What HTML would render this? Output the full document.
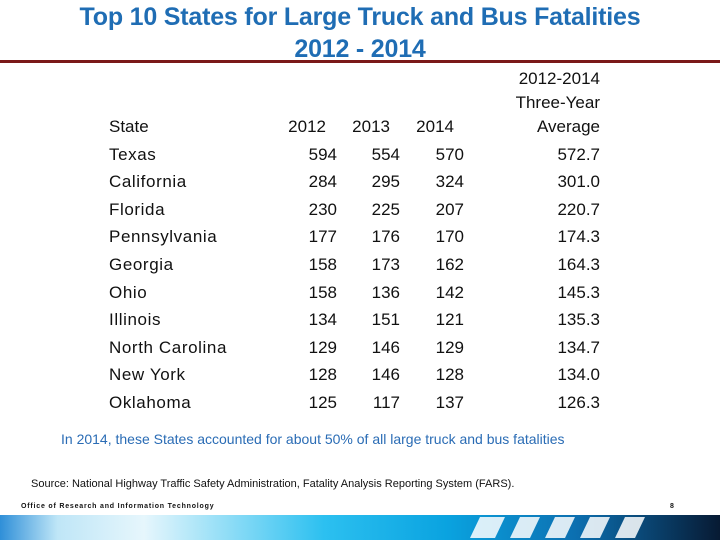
<!DOCTYPE html>
<html><head><meta charset="utf-8"><style>
body{margin:0;width:720px;height:540px;background:#fff;position:relative;overflow:hidden;font-family:"Liberation Sans",sans-serif}
.t{position:absolute;white-space:nowrap}
#title{left:0;width:720px;text-align:center;color:#1f6db4;font-weight:bold;font-size:25px;line-height:32px;top:1px;letter-spacing:-0.2px}
.c{position:absolute;font-size:17px;color:#111;white-space:nowrap;line-height:20px}
.r{text-align:right}
</style></head><body>
<div id="title" class="t">Top 10 States for Large Truck and Bus Fatalities<br>2012 - 2014</div>
<div class="t" style="left:0;top:60px;width:720px;height:3px;background:#7a1818"></div>
<div id="tbl"></div>
<div class="t" style="left:61px;top:431px;font-size:14px;color:#2a6cb5">In 2014, these States accounted for about 50% of all large truck and bus fatalities</div>
<div class="t" style="left:31px;top:478px;font-size:11px;color:#111">Source: National Highway Traffic Safety Administration, Fatality Analysis Reporting System (FARS).</div>
<div class="t" style="left:21px;top:503px;font-size:7px;font-weight:bold;letter-spacing:0.8px;color:#111">Office of Research and Information Technology</div>
<div class="t" style="left:670px;top:503px;font-size:7px;font-weight:bold;color:#111">8</div>
<svg class="t" style="left:0;top:515px" width="720" height="25">
<defs><linearGradient id="g" x1="0" x2="1"><stop offset="0" stop-color="#2f8fd8"/><stop offset="0.08" stop-color="#bfe6f7"/><stop offset="0.2" stop-color="#e6f6fc"/><stop offset="0.45" stop-color="#2cc0f0"/><stop offset="0.62" stop-color="#0aa3e0"/><stop offset="0.8" stop-color="#0c6fb0"/><stop offset="1" stop-color="#071a33"/></linearGradient></defs>
<rect width="720" height="25" fill="url(#g)"/>
<g fill="#ffffff" opacity="0.85">
<polygon points="480,2 505,2 495,23 470,23"/><polygon points="520,2 540,2 530,23 510,23"/><polygon points="555,2 575,2 565,23 545,23"/><polygon points="590,2 610,2 600,23 580,23"/><polygon points="625,2 645,2 635,23 615,23"/></g>
</svg>
<script>
const states=["Texas","California","Florida","Pennsylvania","Georgia","Ohio","Illinois","North Carolina","New York","Oklahoma"];
const v2012=[594,284,230,177,158,158,134,129,128,125];
const v2013=[554,295,225,176,173,136,151,146,146,117];
const v2014=[570,324,207,170,162,142,121,129,128,137];
const avg=["572.7","301.0","220.7","174.3","164.3","145.3","135.3","134.7","134.0","126.3"];
const tbl=document.getElementById('tbl');
function cell(txt,x,y,right,name,ls){
  const d=document.createElement('div');
  d.className='c'+(right?' r':'');
  
  
  d.style.top=(y-9)+'px';
  if(ls)d.style.letterSpacing=ls;
  if(right){d.style.left=(x-150)+'px';d.style.width='150px';}else{d.style.left=x+'px';}
  d.innerHTML=txt;tbl.appendChild(d);
}
const y0=126,dy=27.6;
cell('State',109,y0,false,'header-state');
cell('2012',326,y0,true,'header-2012');
cell('2013',390,y0,true,'header-2013');
cell('2014',454,y0,true,'header-2014');
cell('2012-2014',600,y0-48,true,'header-avg-1');
cell('Three-Year',600,y0-24,true,'header-avg-2');
cell('Average',600,y0,true,'header-avg-3');
states.forEach((s,i)=>{
  const y=y0+dy*(i+1);
  cell(s,109,y,false,'state-name','0.6px');
  cell(v2012[i],337,y,true,'value-2012');
  cell(v2013[i],400,y,true,'value-2013');
  cell(v2014[i],464,y,true,'value-2014');
  cell(avg[i],600,y,true,'value-average');
});
</script>
</body></html>
